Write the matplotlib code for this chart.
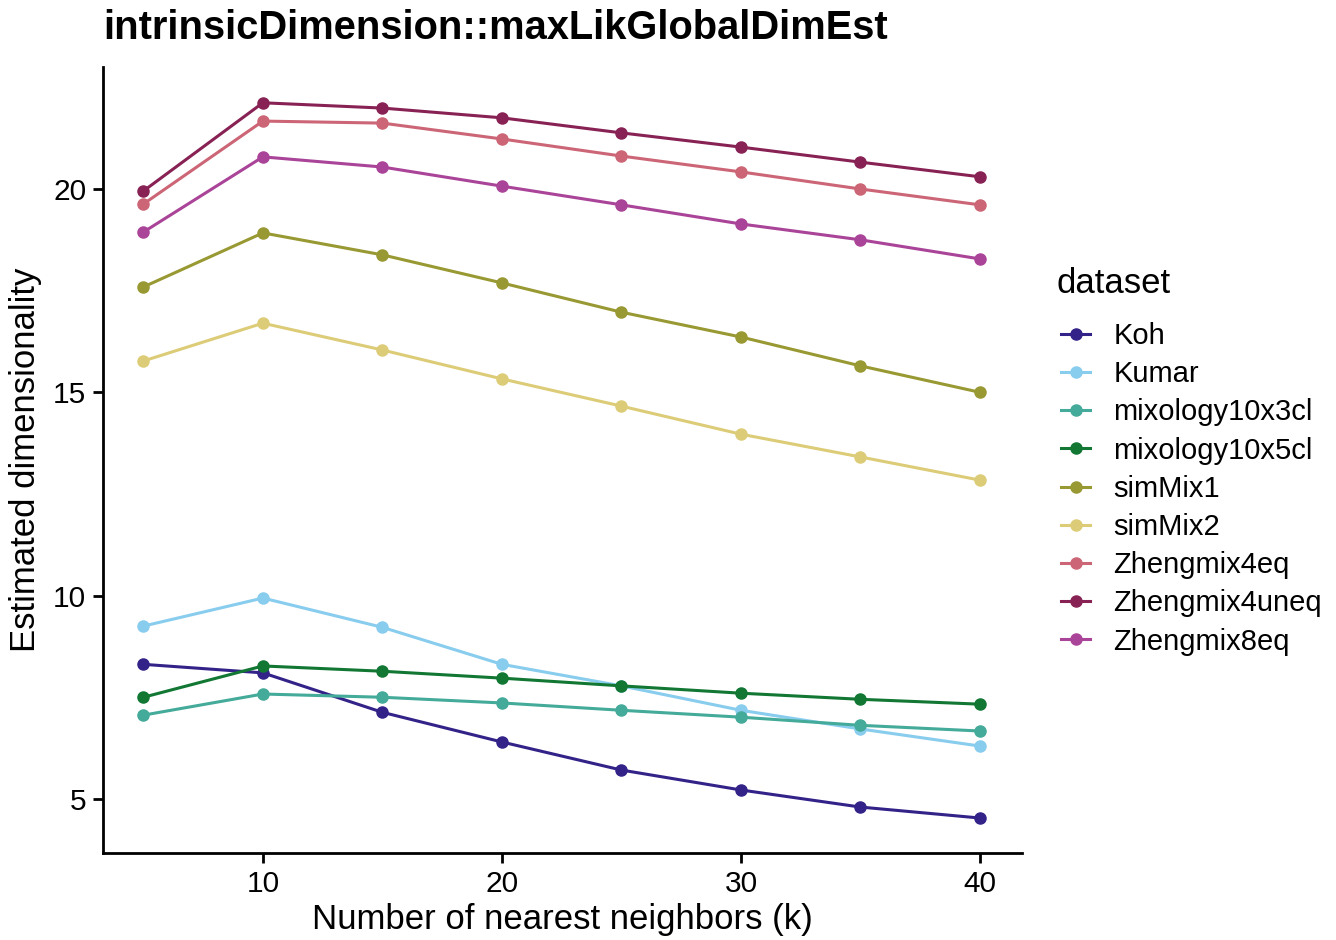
import matplotlib.pyplot as plt

plt.rcParams['font.family'] = ['Liberation Sans', 'DejaVu Sans']

# ── data ──
k_values = [5, 10, 15, 20, 25, 30, 35, 40]

datasets = ["Koh", "Kumar", "mixology10x3cl", "mixology10x5cl", "simMix1",
            "simMix2", "Zhengmix4eq", "Zhengmix4uneq", "Zhengmix8eq"]

koh = [8.31, 8.10, 7.13, 6.40, 5.71, 5.22, 4.80, 4.53]
kumar = [9.25, 9.94, 9.22, 8.31, 7.78, 7.18, 6.72, 6.30]
mixology10x3cl = [7.06, 7.58, 7.50, 7.36, 7.18, 7.01, 6.81, 6.67]
mixology10x5cl = [7.50, 8.27, 8.14, 7.97, 7.78, 7.60, 7.45, 7.33]
simmix1 = [17.59, 18.92, 18.38, 17.69, 16.97, 16.36, 15.65, 15.00]
simmix2 = [15.77, 16.70, 16.04, 15.33, 14.66, 13.97, 13.41, 12.84]
zheng4eq = [19.63, 21.67, 21.62, 21.23, 20.81, 20.42, 20.00, 19.61]
zheng4uneq = [19.95, 22.12, 21.99, 21.75, 21.38, 21.03, 20.66, 20.30]
zheng8eq = [18.94, 20.79, 20.54, 20.07, 19.61, 19.14, 18.75, 18.28]

series = [koh, kumar, mixology10x3cl, mixology10x5cl, simmix1,
          simmix2, zheng4eq, zheng4uneq, zheng8eq]
colors = ["#332288", "#88CCEE", "#44AA99", "#117733", "#999933",
          "#DDCC77", "#CC6677", "#882255", "#AA4499"]

fig = plt.figure(figsize=(13.36, 9.4), dpi=100)
ax = fig.add_axes([103 / 1336, 1 - 853 / 940, (1022 - 103) / 1336, (853 - 67) / 940])

for name, vals, col in zip(datasets, series, colors):
    ax.plot(k_values, vals, color=col, linewidth=2.2, marker='o', markersize=8, label=name)

ax.set_xlim(3.31, 41.76)
ax.set_ylim(3.67, 23.0)
ax.set_xticks([10, 20, 30, 40])
ax.set_yticks([5, 10, 15, 20])

for side in ("top", "right"):
    ax.spines[side].set_visible(False)
for side in ("left", "bottom"):
    ax.spines[side].set_linewidth(2)
ax.tick_params(width=2, length=7, labelsize=21.5, colors='black', pad=5)

ax.set_xlabel("Number of nearest neighbors (k)", fontsize=25, labelpad=4)
ax.set_ylabel("Estimated dimensionality", fontsize=25, labelpad=8)
fig.text(103 / 1336, 1 - 28 / 940, "intrinsicDimension::maxLikGlobalDimEst",
         fontsize=28.7, fontweight='bold', ha='left', va='center')

# legend: title drawn separately so it sits like ggplot's
fig.text(1057 / 1336, 1 - 283 / 940, "dataset", fontsize=25, ha='left', va='center')
leg = fig.legend(loc='upper left', bbox_to_anchor=(1061 / 1336, 1 - 322 / 940),
                 frameon=False, fontsize=21,
                 handlelength=1.0, handletextpad=0.8, labelspacing=0.35,
                 borderpad=0, borderaxespad=0)

fig.savefig("out.png", dpi=100)
